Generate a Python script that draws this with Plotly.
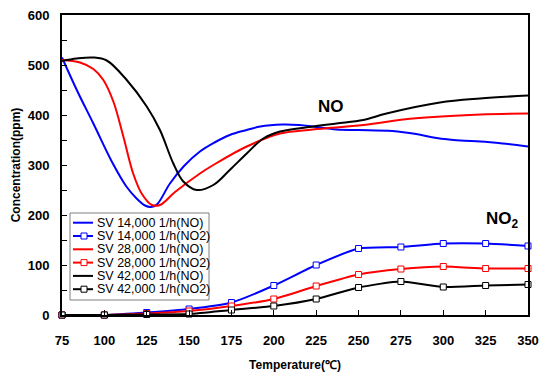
import plotly.graph_objects as go

# ---------------- data ----------------
# NO outlet concentration curves (continuous)
t_no_14 = [75, 84, 93.5, 105, 113, 119, 124, 127.5, 131, 138.7, 147, 156.4, 165, 174, 184, 192, 205, 215, 223, 237, 250, 270, 284, 296, 310, 322, 335, 350]
no_14 = [515, 448, 383, 303, 257, 233, 219, 216, 221, 263, 298, 327, 345, 360, 370, 377, 381, 380, 377, 371, 370, 368, 362, 354, 349, 347, 343, 337]

t_no_28 = [75, 85.6, 93.5, 99.4, 105.3, 111.2, 117, 122, 128, 132.8, 141.7, 156.4, 164.3, 184, 203.7, 223, 253, 282, 322, 350]
no_28 = [510, 505, 492, 470, 427, 357, 283, 243, 220, 220, 246, 283, 300, 337, 363, 371, 380, 393, 401, 403]

t_no_42 = [75, 83.7, 93.5, 101.4, 113.2, 125, 132.8, 140.7, 146.6, 154.5, 164.3, 174, 184, 193.8, 203.7, 223.3, 237, 252.8, 266.5, 298, 321.7, 350]
no_42 = [508, 513, 515, 509, 470, 417, 370, 303, 267, 250, 260, 290, 323, 353, 367, 377, 383, 390, 403, 425, 433, 439]

# NO2 outlet concentration (measured points)
t_no2 = [75, 100, 125, 150, 175, 200, 225, 250, 275, 300, 325, 350]
no2_14 = [0, 0, 5, 12, 25, 59, 100, 133, 136, 143, 143, 138]
no2_28 = [0, 0, 3, 8, 18, 32, 58, 81, 92, 97, 93, 93]
no2_42 = [0, 0, 1, 2, 10, 18, 32, 55, 67, 56, 59, 61]

x_ticks = [75, 100, 125, 150, 175, 200, 225, 250, 275, 300, 325, 350]

names = ["SV 14,000 1/h(NO)", "SV 14,000 1/h(NO2)", "SV 28,000 1/h(NO)",
         "SV 28,000 1/h(NO2)", "SV 42,000 1/h(NO)", "SV 42,000 1/h(NO2)"]

# ---------------- styling ----------------
BLUE, RED, BLACK = "#0000ff", "#ff0000", "#000000"
FONT = "Arial, Liberation Sans, sans-serif"

series = [
    (t_no_14, no_14, names[0], BLUE, False),
    (t_no2, no2_14, names[1], BLUE, True),
    (t_no_28, no_28, names[2], RED, False),
    (t_no2, no2_28, names[3], RED, True),
    (t_no_42, no_42, names[4], BLACK, False),
    (t_no2, no2_42, names[5], BLACK, True),
]

fig = go.Figure()
for xs, ys, nm, col, mk in series:
    if mk:
        fig.add_trace(go.Scatter(
            x=xs, y=ys, name=nm, mode="lines+markers",
            line=dict(color=col, width=2, shape="spline", smoothing=0.6),
            marker=dict(symbol="square", size=6, color="white",
                        line=dict(color=col, width=1)),
            cliponaxis=False, showlegend=False))
    else:
        fig.add_trace(go.Scatter(
            x=xs, y=ys, name=nm, mode="lines",
            line=dict(color=col, width=2, shape="spline", smoothing=1.0),
            showlegend=False))

# ---------------- manual legend (compact, like the original) ----------------
L, R, T, B = 62, 528, 15, 315
W, H = R - L, B - T
def px(x): return (x - L) / W
def py(y): return (B - y) / H

shapes = [dict(type="rect", xref="paper", yref="paper",
               x0=px(70), x1=px(209), y0=py(300), y1=py(213),
               line=dict(color="#7f7f7f", width=1), fillcolor="white", layer="above")]
annotations = []
for i, (xs, ys, nm, col, mk) in enumerate(series):
    yc = 222.7 + i * 13.3
    shapes.append(dict(type="line", xref="paper", yref="paper",
                       x0=px(73), x1=px(93), y0=py(yc), y1=py(yc),
                       line=dict(color=col, width=2), layer="above"))
    if mk:
        shapes.append(dict(type="rect", xref="paper", yref="paper",
                           xsizemode="pixel", ysizemode="pixel",
                           xanchor=px(84), yanchor=py(yc),
                           x0=-3, x1=3, y0=-3, y1=3,
                           line=dict(color=col, width=1), fillcolor="white", layer="above"))
    annotations.append(dict(xref="paper", yref="paper", x=px(95), y=py(yc),
                            xanchor="left", yanchor="middle", showarrow=False,
                            text=nm, font=dict(family=FONT, size=12.5, color="black")))

annotations.append(dict(x=234, y=418, xref="x", yref="y", text="<b>NO</b>", showarrow=False,
                        font=dict(family=FONT, size=17, color="black")))
annotations.append(dict(x=335, y=190, xref="x", yref="y", text="<b>NO<sub>2</sub></b>", showarrow=False,
                        font=dict(family=FONT, size=17, color="black")))

fig.update_layout(
    width=539, height=374,
    margin=dict(l=L, r=539 - R, t=T, b=374 - B),
    paper_bgcolor="white", plot_bgcolor="white",
    showlegend=False,
    shapes=shapes, annotations=annotations,
    font=dict(family=FONT, color="black"),
)
fig.update_xaxes(
    range=[75, 350], tickvals=x_ticks, ticks="inside", ticklen=5, tickwidth=1,
    tickcolor="black", showline=True, linecolor="black", linewidth=2, mirror=True,
    showgrid=False, zeroline=False, automargin=False,
    tickfont=dict(family=FONT, size=13, color="black", weight="bold"),
    ticklabelstandoff=12,
    title=dict(text="Temperature(℃)", standoff=14,
               font=dict(family=FONT, size=12, color="black", weight="bold")),
)
fig.update_yaxes(
    range=[0, 600], dtick=100, ticks="inside", ticklen=5, tickwidth=1,
    tickcolor="black", showline=True, linecolor="black", linewidth=2, mirror=True,
    showgrid=False, zeroline=False, automargin=False,
    minor=dict(dtick=50, ticks="inside", ticklen=5, tickcolor="black", showgrid=False),
    tickfont=dict(family=FONT, size=13, color="black", weight="bold"),
    ticklabelstandoff=8,
    title=dict(text="Concentration(ppm)", standoff=4,
               font=dict(family=FONT, size=12, color="black", weight="bold")),
)

fig.write_html("out.html")
